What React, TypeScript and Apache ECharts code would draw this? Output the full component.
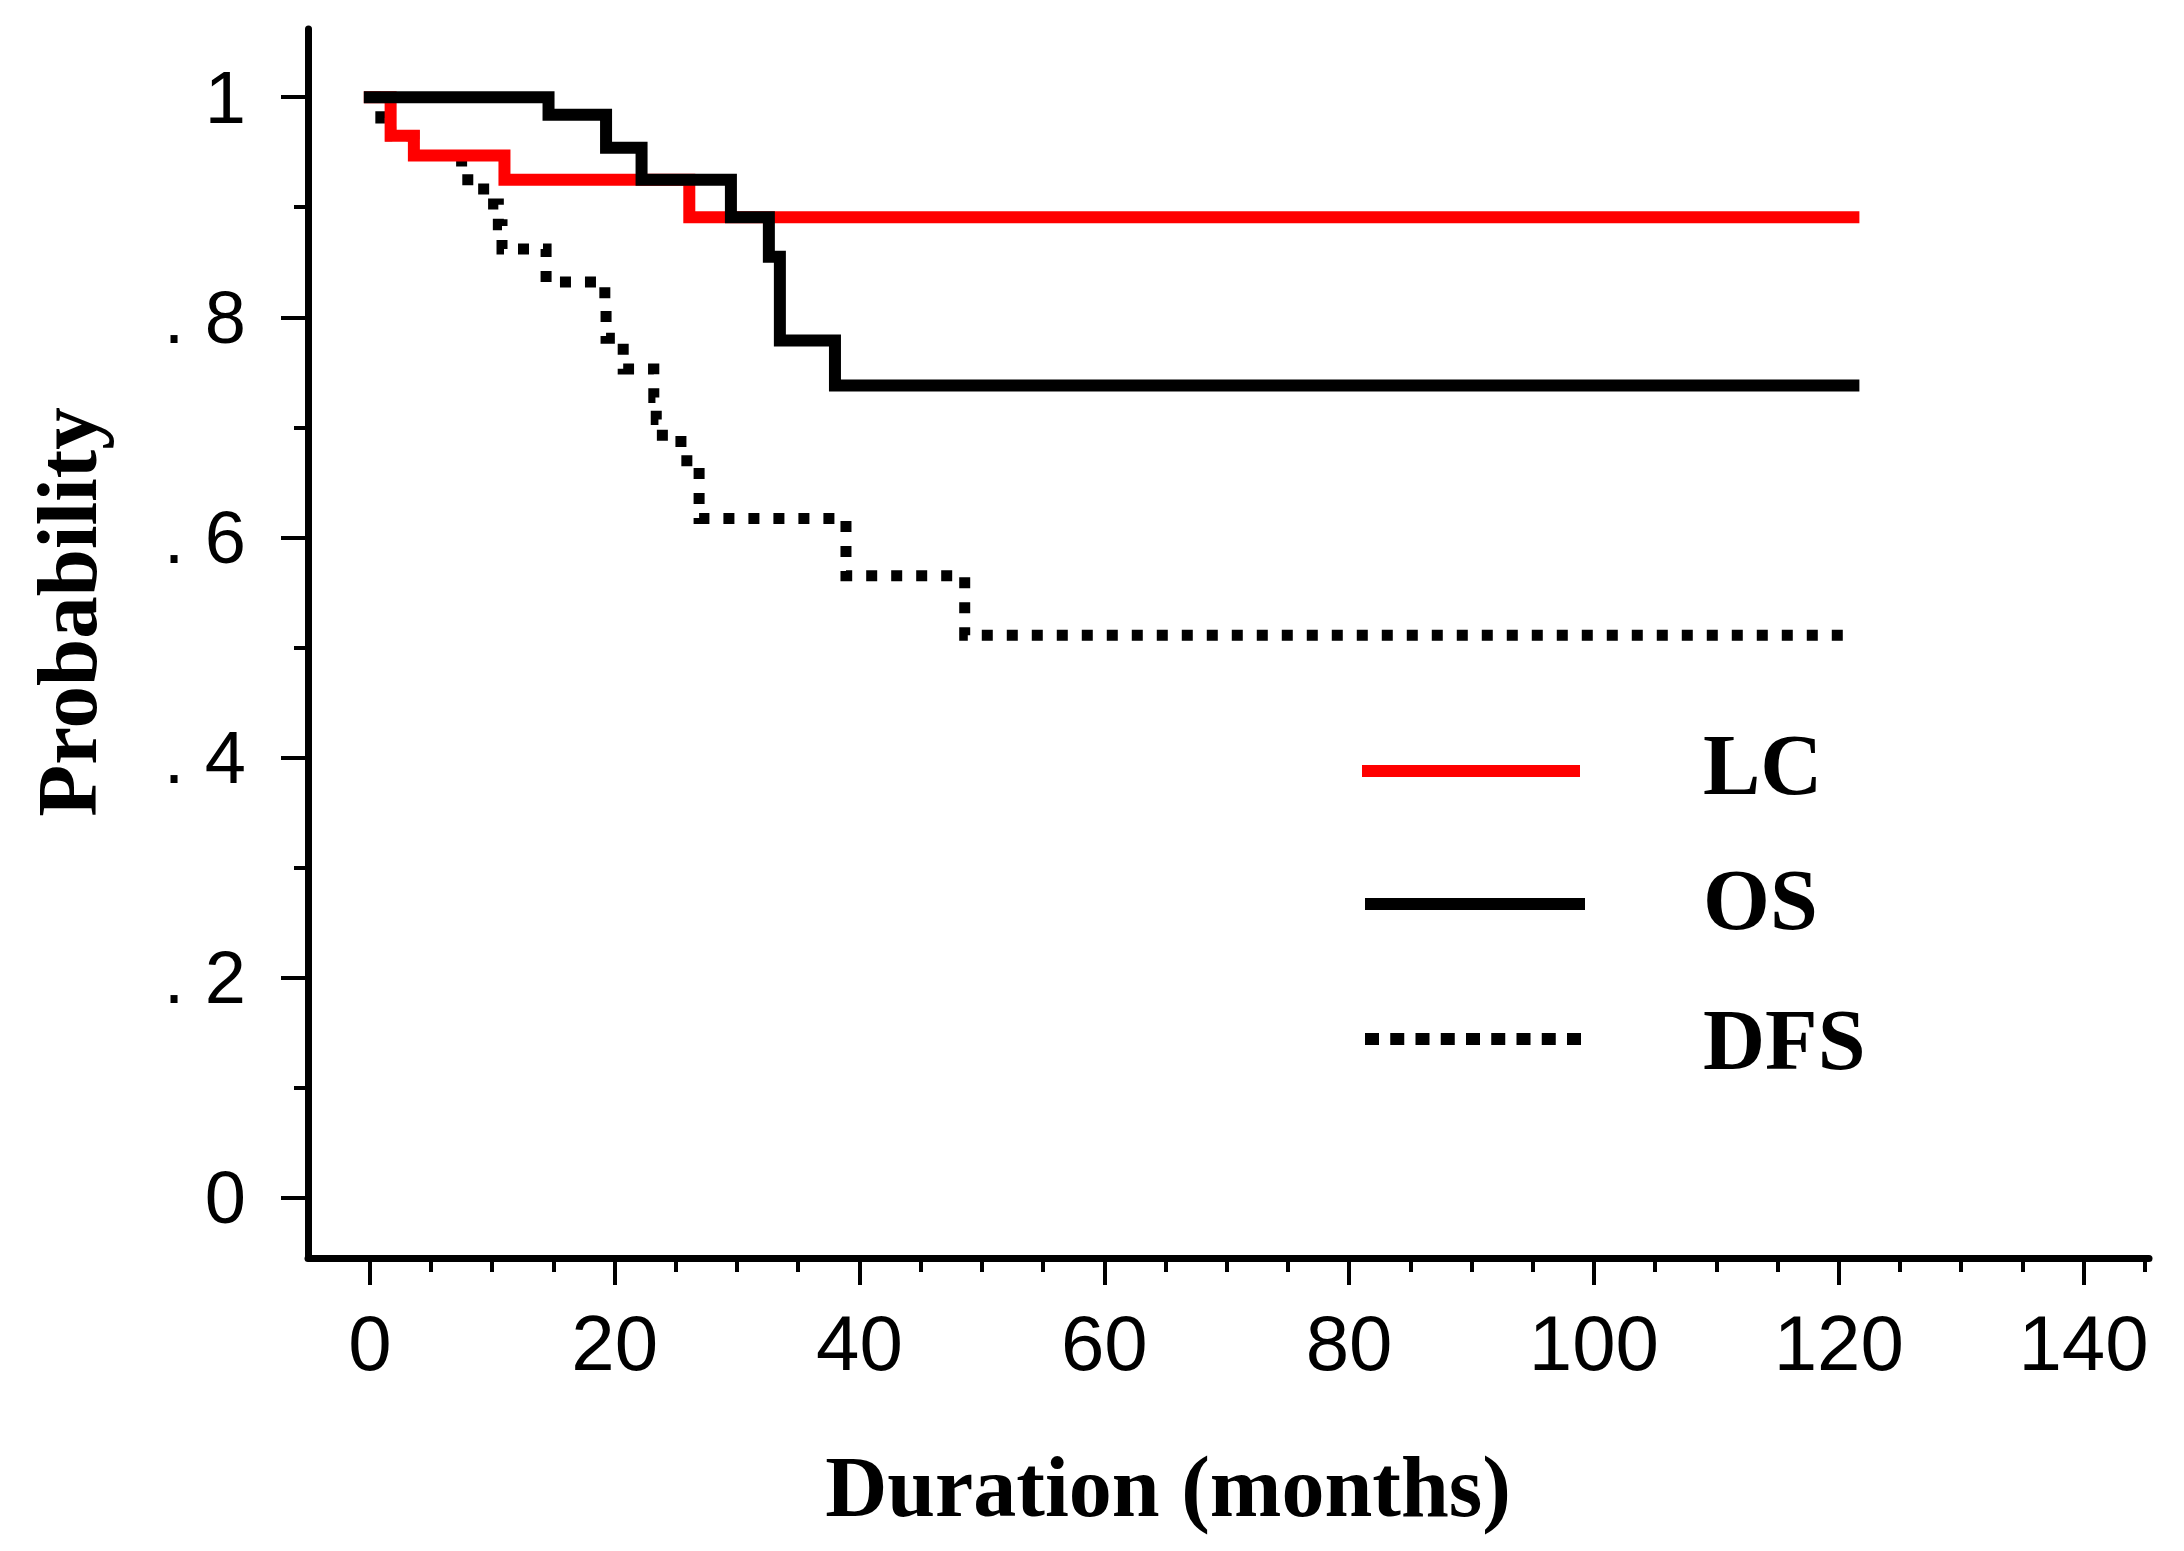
import React, { useEffect, useRef } from "react";
import * as echarts from "echarts";

// Kaplan-Meier curves (time in months, probability)
const lcTimes = [0, 1.7, 3.6, 11.0, 26.1, 121.2];
const lcValues = [1.0, 0.965, 0.947, 0.925, 0.891, 0.891];

const osTimes = [0, 14.6, 19.3, 22.2, 29.5, 32.6, 33.5, 38.0, 121.2];
const osValues = [1.0, 0.984, 0.954, 0.925, 0.891, 0.855, 0.779, 0.738, 0.738];

const dfsTimes = [0, 0.9, 1.7, 3.6, 7.5, 9.3, 10.5, 10.8, 14.4, 19.2, 19.3, 20.7, 23.2, 23.4, 23.9, 25.9, 26.9, 38.9, 48.6, 121.0];
const dfsValues = [1.0, 0.981, 0.965, 0.947, 0.925, 0.903, 0.884, 0.862, 0.832, 0.809, 0.781, 0.753, 0.727, 0.707, 0.687, 0.664, 0.617, 0.565, 0.511, 0.511];

const xMajorTicks = [0, 20, 40, 60, 80, 100, 120, 140];
const xMinorTicks = [5, 10, 15, 25, 30, 35, 45, 50, 55, 65, 70, 75, 85, 90, 95, 105, 110, 115, 125, 130, 135, 145];
const yMajorTicks = [0, 0.2, 0.4, 0.6, 0.8, 1];
const yMinorTicks = [0.1, 0.3, 0.5, 0.7, 0.9];

const legendNames = ["LC", "OS", "DFS"];

const pairs = (t: number[], v: number[]) => t.map((x, i) => [x, v[i]]);

export default function App() {
  const ref = useRef<HTMLDivElement>(null);
  useEffect(() => {
    if (!ref.current) return;
    const chart = echarts.init(ref.current, null, { renderer: "svg" });
    const xMin = -5.05, xMax = 145.35, yMin = -0.055, yMax = 1.062;
    const axisBase = { min: xMin, max: xMax, type: "value" as const };
    const yBase = { min: yMin, max: yMax, type: "value" as const };
    chart.setOption({
      animation: false,
      backgroundColor: "#ffffff",
      grid: { left: 308, right: 35, top: 29, bottom: 293, containLabel: false, outerBoundsMode: "none" },
      xAxis: [
        {
          ...axisBase,
          position: "bottom",
          axisLine: { show: true, onZero: false, lineStyle: { color: "#000", width: 7 } },
          axisTick: { show: true, customValues: xMajorTicks, length: 27, lineStyle: { color: "#000", width: 4 } },
          axisLabel: {
            show: true,
            customValues: xMajorTicks,
            formatter: (v: number) => String(Math.round(v)),
            margin: 46,
            color: "#000",
            fontFamily: "Liberation Sans",
            fontSize: 78,
          },
          splitLine: { show: false },
        },
        {
          ...axisBase,
          position: "bottom",
          axisLine: { show: false, onZero: false },
          axisTick: { show: true, customValues: xMinorTicks, length: 14, lineStyle: { color: "#000", width: 4 } },
          axisLabel: { show: false },
          splitLine: { show: false },
        },
      ],
      yAxis: [
        {
          ...yBase,
          position: "left",
          axisLine: { show: true, onZero: false, lineStyle: { color: "#000", width: 7 } },
          axisTick: { show: true, customValues: yMajorTicks, length: 27, lineStyle: { color: "#000", width: 4 } },
          axisLabel: {
            show: true,
            customValues: yMajorTicks,
            formatter: (v: number) => {
              const r = Math.round(v * 10);
              if (r === 0) return "0";
              if (r === 10) return "1";
              return ". " + r;
            },
            margin: 62,
            color: "#000",
            fontFamily: "Liberation Sans",
            fontSize: 74,
          },
          splitLine: { show: false },
        },
        {
          ...yBase,
          position: "left",
          axisLine: { show: false, onZero: false },
          axisTick: { show: true, customValues: yMinorTicks, length: 14, lineStyle: { color: "#000", width: 4 } },
          axisLabel: { show: false },
          splitLine: { show: false },
        },
      ],
      series: [
        {
          name: "DFS",
          type: "line",
          step: "end",
          showSymbol: false,
          xAxisIndex: 0,
          yAxisIndex: 0,
          data: pairs(dfsTimes, dfsValues),
          lineStyle: { color: "#000", width: 11, type: [11, 14], cap: "butt", join: "miter" },
          z: 2,
        },
        {
          name: "LC",
          type: "line",
          step: "end",
          showSymbol: false,
          xAxisIndex: 0,
          yAxisIndex: 0,
          data: pairs(lcTimes, lcValues),
          lineStyle: { color: "#ff0000", width: 12, cap: "square", join: "miter" },
          z: 3,
        },
        {
          name: "OS",
          type: "line",
          step: "end",
          showSymbol: false,
          xAxisIndex: 0,
          yAxisIndex: 0,
          data: pairs(osTimes, osValues),
          lineStyle: { color: "#000", width: 12, cap: "square", join: "miter" },
          z: 4,
        },
      ],
      graphic: [
        {
          type: "text",
          x: 1168,
          y: 1487,
          style: {
            text: "Duration (months)",
            fontFamily: "Liberation Serif",
            fontWeight: "bold",
            fontSize: 86,
            fill: "#000",
            align: "center",
            verticalAlign: "middle",
          },
        },
        {
          type: "text",
          x: 67,
          y: 612,
          rotation: Math.PI / 2,
          style: {
            text: "Probability",
            fontFamily: "Liberation Serif",
            fontWeight: "bold",
            fontSize: 85,
            fill: "#000",
            align: "center",
            verticalAlign: "middle",
          },
        },
        { type: "line", shape: { x1: 1362, y1: 771, x2: 1580, y2: 771 }, style: { stroke: "#ff0000", lineWidth: 12 } },
        { type: "line", shape: { x1: 1365, y1: 904, x2: 1585, y2: 904 }, style: { stroke: "#000", lineWidth: 12 } },
        {
          type: "line",
          shape: { x1: 1365, y1: 1039, x2: 1581, y2: 1039 },
          style: { stroke: "#000", lineWidth: 12, lineDash: [14, 11.25] },
        },
        ...legendNames.map((name, i) => ({
          type: "text",
          x: 1703,
          y: [765, 900, 1040][i],
          style: {
            text: name,
            fontFamily: "Liberation Serif",
            fontWeight: "bold",
            fontSize: 86,
            fill: "#000",
            align: "left",
            verticalAlign: "middle",
          },
        })),
      ],
    });
    return () => chart.dispose();
  }, []);
  return (
    <div
      ref={ref}
      style={{ position: "absolute", left: 0, top: 0, width: 2184, height: 1551, background: "#fff" }}
    />
  );
}
